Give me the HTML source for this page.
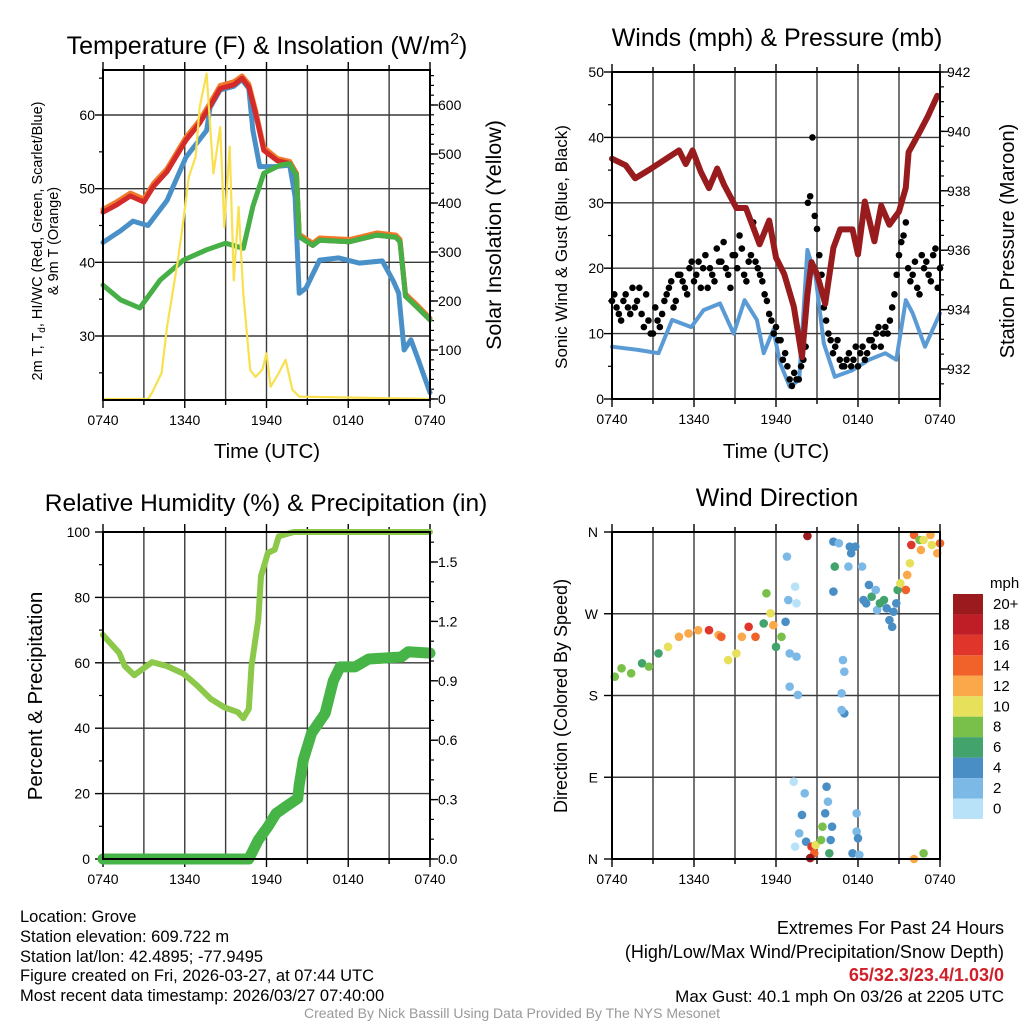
<!DOCTYPE html>
<html><head><meta charset="utf-8"><title>Grove Mesonet Meteogram</title>
<style>
html,body{margin:0;padding:0;background:#fff;width:1024px;height:1024px;overflow:hidden}
svg{display:block}
text{font-family:"Liberation Sans",Arial,sans-serif;fill:#000}
</style></head>
<body>
<svg id="chart" width="1024" height="1024" viewBox="0 0 1024 1024" xmlns="http://www.w3.org/2000/svg">
<rect x="0" y="0" width="1024" height="1024" fill="#fff"/>
<text x="267" y="54" font-size="25" text-anchor="middle">Temperature (F) &amp; Insolation (W/m<tspan dy="-10" font-size="16">2</tspan><tspan dy="10">)</tspan></text>
<text x="777" y="46" font-size="25" text-anchor="middle">Winds (mph) &amp; Pressure (mb)</text>
<text x="266" y="511" font-size="24.5" text-anchor="middle">Relative Humidity (%) &amp; Precipitation (in)</text>
<text x="777" y="506" font-size="25" text-anchor="middle">Wind Direction</text>

<text x="267" y="458" font-size="20.5" text-anchor="middle">Time (UTC)</text>
<text x="776" y="458" font-size="20.5" text-anchor="middle">Time (UTC)</text>

<text transform="translate(42,241) rotate(-90)" font-size="14.5" text-anchor="middle">2m T, T<tspan dy="3" font-size="10">d</tspan><tspan dy="-3">, HI/WC (Red, Green, Scarlet/Blue)</tspan></text>
<text transform="translate(58,241) rotate(-90)" font-size="14.5" text-anchor="middle">&amp; 9m T (Orange)</text>
<text transform="translate(501,235) rotate(-90)" font-size="21.5" text-anchor="middle">Solar Insolation (Yellow)</text>
<text transform="translate(567,247) rotate(-90)" font-size="17" text-anchor="middle">Sonic Wind &amp; Gust (Blue, Black)</text>
<text transform="translate(1014,241) rotate(-90)" font-size="20" text-anchor="middle">Station Pressure (Maroon)</text>
<text transform="translate(42,696) rotate(-90)" font-size="20.5" text-anchor="middle">Percent &amp; Precipitation</text>
<text transform="translate(567,696) rotate(-90)" font-size="18" text-anchor="middle">Direction (Colored By Speed)</text>

<g>
<text x="20" y="922" font-size="16.5">Location: Grove</text>
<text x="20" y="942" font-size="16.5">Station elevation: 609.722 m</text>
<text x="20" y="962" font-size="16.5">Station lat/lon: 42.4895; -77.9495</text>
<text x="20" y="981" font-size="16.5">Figure created on Fri, 2026-03-27, at 07:44 UTC</text>
<text x="20" y="1001" font-size="16.5">Most recent data timestamp: 2026/03/27 07:40:00</text>
</g>
<g>
<text x="1004" y="934" font-size="18" text-anchor="end">Extremes For Past 24 Hours</text>
<text x="1004" y="958" font-size="18" text-anchor="end">(High/Low/Max Wind/Precipitation/Snow Depth)</text>
<text x="1004" y="981" font-size="18" text-anchor="end" font-weight="bold" style="fill:#d0202a">65/32.3/23.4/1.03/0</text>
<text x="1004" y="1002" font-size="17" text-anchor="end">Max Gust: 40.1 mph On 03/26 at 2205 UTC</text>
</g>
<text x="512" y="1018" font-size="14" text-anchor="middle" style="fill:#999">Created By Nick Bassill Using Data Provided By The NYS Mesonet</text>
<g id="plots"></g>
</svg>
<script>
// ---------- Temperature panel data (hours since 0740 UTC) ----------
const redT = [0,1,2,3,3.7,4.7,6.1,7.1,7.85,8.6,9.6,10.2,10.7,11.2,11.8,12.8,13.7,14.2,14.4,15.4,15.9,18.1,20.1,21.5,21.8,22.2,23,24];
const redV = [46.8,47.8,49.0,48.2,50.3,52.3,56.6,58.9,61.2,63.6,64.1,65.0,63.8,60.2,55.2,53.8,53.4,51.8,43.5,42.3,43.0,42.8,43.7,43.4,42.8,35.4,34.0,32.2];
const orangeV = [47.2,48.2,49.4,48.6,50.7,52.7,57.0,59.3,61.6,64.0,64.5,65.3,64.2,60.6,55.6,54.1,53.7,52.1,43.8,42.6,43.3,43.1,44.0,43.7,43.1,35.7,34.3,32.4];
const greenT = [0,1.3,2.7,4.2,5.9,7.6,9.0,10.3,11.0,11.8,13.0,13.7,14.2,14.4,15.4,15.9,18.1,20.1,21.5,21.8,22.2,23,24];
const greenV = [36.9,34.9,33.8,37.6,40.3,41.7,42.6,41.9,47.6,52.1,53.2,53.4,51.8,43.5,42.3,43.0,42.8,43.7,43.4,42.8,35.4,34.0,32.2];
const blueT = [0,1.3,2.2,2.9,3.3,4.7,6.1,7.6,7.85,8.6,9.6,10.2,10.7,11.0,11.5,12.6,13.7,14.1,14.4,14.9,15.9,17.3,18.8,20.5,21.3,21.7,22.1,22.6,23.1,24];
const blueV = [42.7,44.3,45.6,45.2,45.0,48.4,54.3,57.9,61.0,63.4,63.9,64.8,63.6,57.9,53.0,53.0,53.2,48.9,35.8,36.5,40.3,40.6,39.9,40.2,37.5,35.8,28.1,29.5,27.0,22.3];
const solarT = [0,3.3,3.6,4.3,4.7,5.5,5.9,6.3,6.8,7.1,7.6,8.1,8.6,8.9,9.3,9.6,9.95,10.3,10.8,11.2,11.7,12.0,12.3,12.9,13.4,13.9,14.4,24];
const solarV = [0,0,13,53,147,283,365,453,494,596,664,460,555,351,515,242,392,215,59,45,60,93,25,53,80,19,5,0];
// ---------- Winds panel data ----------
const presT = [0,1.0,1.7,2.7,3.6,4.9,5.4,5.9,6.5,7.1,7.7,8.2,9.1,9.8,10.8,11.5,12.0,12.6,13.3,13.9,14.3,14.6,15.0,15.6,16.2,16.7,17.6,18.0,18.5,19.2,19.7,20.3,21.0,21.5,21.7,22.5,23.1,23.8];
const presV = [939.08,938.86,938.42,938.7,938.97,939.36,938.9,939.36,938.64,938.09,938.75,938.2,937.42,937.42,936.2,937.0,935.75,935.2,934.1,932.4,934.5,935.6,935.2,934.2,936.08,936.7,936.7,935.86,937.64,936.3,937.5,936.86,937.3,938.1,939.3,939.97,940.5,941.2];
const windT = [0,1.9,3.4,4.4,5.8,6.7,7.9,8.9,9.7,10.6,11.1,11.8,12.3,13.0,13.7,14.3,14.9,15.5,16.3,17.6,18.8,20.0,20.8,21.5,22.0,22.9,24];
const windV = [8.0,7.5,7.0,12.1,11.0,13.6,14.6,10.0,15.1,12.1,7.0,10.6,5.5,1.9,2.9,22.8,18.7,8.5,3.4,4.4,6.0,7.0,6.0,15.1,13.1,8.0,13.1];
// gusts every 20 minutes from 0740 UTC
const gustV = [15,14,12,16,13,14,17,11,12,10,12,13,16,18,15,19,17,20,18,21,20,17,19,23,21,20,17,22,25,19,21,27,20,18,15,12,11,9,7,3,4,3,6,30,40,26,19,12,9,8,6,5,7,6,5,8,7,9,10,8,11,12,16,22,25,20,19,17,22,21,18,23,20];
// gusts every 20 minutes from 0750 UTC
const gust2V = [16,13,15,14,17,15,13,16,10,14,11,15,17,14,19,18,16,21,19,17,22,20,18,21,24,19,22,20,23,18,22,21,19,16,13,10,9,6,5,2,3,5,8,31,28,22,14,10,7,9,5,6,5,8,7,6,9,8,11,10,10,14,19,24,27,18,21,16,20,19,22,17];
// ---------- Humidity panel data ----------
const rhT = [0,1.2,1.6,2.3,3.6,4.7,5.9,6.9,7.9,8.9,9.9,10.3,10.7,10.9,11.4,11.6,12.1,12.6,12.9,14.0,24];
const rhV = [68.5,63,59,56.2,60.2,59,56.7,53.1,49,46.4,44.9,43.1,45.9,59,73.3,86.5,93.6,94.6,98.7,100,100];
const pcpT = [0,10.7,11.4,12.1,12.7,13.4,14.3,14.4,14.7,15.3,16.3,16.9,17.4,18.5,19.5,21.9,22.4,24];
const pcpV = [0,0,0.096,0.163,0.23,0.264,0.306,0.373,0.50,0.635,0.735,0.90,0.97,0.97,1.01,1.02,1.047,1.04];
// ---------- Wind direction data ----------
const dirT = [0.2,0.7,1.4,2.2,2.7,3.4,4.1,4.9,5.6,6.3,7.1,7.8,8.0,8.5,9.1,9.5,10.0,10.5,11.1,11.3,11.6,11.8,12.0,12.4,12.7,12.8,12.9,13.0,13.0,13.4,13.5,13.6,13.5,13.3,14.1,13.9,13.7,13.4,14.2,14.6,14.8,14.5,14.9,15.3,15.4,14.3,15.6,15.7,15.8,15.9,16.0,16.1,16.2,16.3,16.2,16.6,16.8,16.9,17.0,17.0,16.8,17.3,17.4,17.5,17.6,17.8,17.9,17.9,18.0,18.1,18.3,18.4,18.6,18.8,19.0,19.3,19.4,19.6,19.9,20.1,20.3,20.5,20.6,20.8,20.9,21.1,21.5,21.6,21.8,21.9,22.1,22.5,22.6,22.8,23.3,23.4,23.8,24.0,22.1,22.8];
const dirV = [200.7,209.9,204.4,215.4,211.8,226.3,233.6,244.6,248.3,251.9,251.9,246.6,244.6,219,226.3,244.6,255.6,244.6,259.3,292.5,270.5,257.4,233.6,244.6,261.1,332.9,285.1,226.3,189.7,299.8,222.8,180.6,281.5,85.1,72.3,48.5,28.3,13.6,19.1,13.6,6.3,1,15.4,20.9,35.6,355.6,50.3,79.6,63.1,6.3,20.9,35.6,349.4,321.9,294.4,347.6,182.4,219,206.2,160.3,164,321.9,343.9,336.6,6.3,343.9,50.3,30.2,22.8,4.5,321.9,285.1,281.5,301.7,288.8,296.2,274.1,281.5,285.1,276,263,255.6,272.2,281.5,296.2,303.5,296.2,312.7,325.6,345.8,356.7,351.2,340.2,351.2,356.7,345.8,336.6,347.6,0,6.3];
const dirS = [9,9,9,7,9,7,11,13,13,13,17,13,15,11,11,13,17,15,7,9,11,13,7,9,5,3,3,3,3,1,3,3,1,1,3,5,3,1,5,17,15,21,11,9,9,21,5,5,3,7,5,5,5,7,5,3,3,3,3,5,3,3,5,5,5,5,3,3,5,3,3,5,5,5,7,3,3,7,7,5,5,5,5,5,7,11,15,13,11,17,15,9,13,11,13,11,13,15,13,9];
// ---------- Colorbar ----------
const cbLabels = ["20+","18","16","14","12","10","8","6","4","2","0"];
const cbColors = ["#9a1a1e","#c01e27","#e0352b","#f0622a","#fba84a","#e6e05a","#78c04a","#42a46c","#4a8ec6","#7db9e6","#b8e2f8"];
const timeLabels = ["0740","1340","1940","0140","0740"];

const NS="http://www.w3.org/2000/svg";
const root=document.getElementById('plots');
function el(tag,attrs,parent){const e=document.createElementNS(NS,tag);for(const k in attrs)e.setAttribute(k,attrs[k]);(parent||root).appendChild(e);return e;}
function lin(d0,d1,r0,r1){return v=>r0+(v-d0)*(r1-r0)/(d1-d0);}
function speedColor(s){let i=Math.min(10,Math.floor(s/2));return cbColors[10-i];}

const panels={
 p1:{x0:103,x1:430,y0:70,y1:400},
 p2:{x0:612,x1:940,y0:72,y1:399},
 p3:{x0:103,x1:430,y0:532,y1:859},
 p4:{x0:612,x1:940,y0:532,y1:859}
};
for(const k in panels){const p=panels[k];p.x=lin(0,24,p.x0,p.x1);}
const p1=panels.p1,p2=panels.p2,p3=panels.p3,p4=panels.p4;
p1.yL=lin(30,60,336,115); p1.yR=lin(0,600,399,105);
p2.yL=lin(0,50,399,72); p2.yR=lin(932,942,369,72);
p3.yL=lin(0,100,859,532); p3.yR=lin(0,1.5,859,562);
p4.yL=lin(0,360,859,532);

function frame(p,name,hGrid,tickL,minorL,tickR,minorR){
 const g=el('g',{});
 
 
 for(let h=3;h<24;h+=3){
  const ln=el('line',{x1:p.x(h),x2:p.x(h),y1:p.y0,y2:p.y1,stroke:'#3a3a3a','stroke-width':1.4},g);
  
  
 }
 hGrid.forEach(v=>{
  const ln=el('line',{x1:p.x0,x2:p.x1,y1:p.yL(v),y2:p.yL(v),stroke:'#3a3a3a','stroke-width':1.4},g);
  
  
 });
 for(let h=0;h<=24;h+=3){
  const L=(h%6===0)?8:5;
  el('line',{x1:p.x(h),x2:p.x(h),y1:p.y1,y2:p.y1+L,stroke:'#000','stroke-width':1.4},g);
  el('line',{x1:p.x(h),x2:p.x(h),y1:p.y0,y2:p.y0-L,stroke:'#000','stroke-width':1.4},g);
 }
 tickL.forEach(v=>el('line',{x1:p.x0,x2:p.x0-8,y1:p.yL(v),y2:p.yL(v),stroke:'#000','stroke-width':1.4},g));
 minorL.forEach(v=>el('line',{x1:p.x0,x2:p.x0-4,y1:p.yL(v),y2:p.yL(v),stroke:'#000','stroke-width':1.2},g));
 if(p.yR){
  tickR.forEach(v=>el('line',{x1:p.x1,x2:p.x1+8,y1:p.yR(v),y2:p.yR(v),stroke:'#000','stroke-width':1.4},g));
  minorR.forEach(v=>el('line',{x1:p.x1,x2:p.x1+4,y1:p.yR(v),y2:p.yR(v),stroke:'#000','stroke-width':1.2},g));
 }
 timeLabels.forEach((t,i)=>{
  const tx=el('text',{x:p.x(i*6),y:p.y1+25,'font-size':14,'text-anchor':'middle'},g);
  tx.textContent=t;
  
  
 });
 return g;
}
function border(p,name){
 const r=el('rect',{x:p.x0,y:p.y0,width:p.x1-p.x0,height:p.y1-p.y0,fill:'none',stroke:'#000','stroke-width':2});
 
 
}
function range(a,b,s){const r=[];for(let v=a;v<=b+1e-9;v+=s)r.push(+v.toFixed(3));return r;}
function line(p,T,V,ys,color,w,name){
 const d=T.map((t,i)=>(i?'L':'M')+p.x(t).toFixed(1)+','+ys(V[i]).toFixed(1)).join('');
 const path=el('path',{d:d,fill:'none',stroke:color,'stroke-width':w,'stroke-linejoin':'round','stroke-linecap':'round'});
 
 
 return path;
}
function label(x,y,txt,anchor,name){
 const t=el('text',{x:x,y:y,'font-size':14,'text-anchor':anchor});
 t.textContent=txt;
 
 
}

// ---- Panel 1 ----
frame(p1,'temperature',[30,40,50,60],[30,40,50,60],[25,35,45,55,65],range(0,600,100),range(0,660,20));
[30,40,50,60].forEach(v=>label(95,p1.yL(v)+5,String(v),'end','temperature-y-tick-label'));
range(0,600,100).forEach(v=>label(438,p1.yR(v)+5,String(v),'start','insolation-y-tick-label'));
line(p1,blueT,blueV,p1.yL,'#4a90c8',5,'heat-index-windchill-line');
line(p1,redT,orangeV,p1.yL,'#f07a2a',5,'9m-temperature-line');
line(p1,redT,redV,p1.yL,'#d42a2a',5,'2m-temperature-line');
line(p1,greenT,greenV,p1.yL,'#46b046',5,'dewpoint-line');
line(p1,solarT,solarV,p1.yR,'#f8e050',2.2,'solar-insolation-line');
border(p1,'temperature');

// ---- Panel 2 ----
frame(p2,'winds',[10,20,30,40],[0,10,20,30,40,50],range(5,45,10),range(932,942,2),range(931.5,942,0.5));
[0,10,20,30,40,50].forEach(v=>label(604,p2.yL(v)+5,String(v),'end','wind-y-tick-label'));
range(932,942,2).forEach(v=>label(947,p2.yR(v)+5,String(v),'start','pressure-y-tick-label'));
line(p2,windT,windV,p2.yL,'#5a9bd5',4,'sonic-wind-line');
gustV.forEach((g,i)=>{
 const c=el('circle',{cx:p2.x(i/3),cy:p2.yL(g),r:3.3,fill:'#000'});
 
 
});
gust2V.forEach((g,i)=>{
 const c=el('circle',{cx:p2.x(i/3+1/6),cy:p2.yL(g),r:3.3,fill:'#000'});
 
 
});
line(p2,presT,presV,p2.yR,'#981b1e',6,'station-pressure-line');
border(p2,'winds');

// ---- Panel 3 ----
frame(p3,'humidity',[20,40,60,80],[0,20,40,60,80,100],range(10,90,20),range(0,1.5,0.3),range(0,1.6,0.1));
[0,20,40,60,80,100].forEach(v=>label(90,p3.yL(v)+5,String(v),'end','humidity-y-tick-label'));
range(0,1.5,0.3).forEach(v=>label(438,p3.yR(v)+5,v.toFixed(1),'start','precipitation-y-tick-label'));
line(p3,rhT,rhV,p3.yL,'#8cc84a',6,'relative-humidity-line');
line(p3,pcpT,pcpV,p3.yR,'#46b446',11,'precipitation-line');
border(p3,'humidity');

// ---- Panel 4 ----
frame(p4,'direction',[90,180,270],[0,90,180,270,360],[],[],[]);
["N","E","S","W","N"].forEach((d,i)=>label(598,p4.yL(i*90)+5,d,'end','direction-y-tick-label'));
dirT.forEach((t,i)=>{
 const c=el('circle',{cx:p4.x(t),cy:p4.yL(dirV[i]),r:4.3,fill:speedColor(dirS[i])});
 
 
});
border(p4,'direction');

// ---- Colorbar ----
const cb=el('g',{});


const cbt=el('text',{x:990,y:588,'font-size':15},cb);
cbt.textContent='mph';


cbLabels.forEach((l,i)=>{
 const y=594+i*20.45;
 const r=el('rect',{x:953,y:y,width:30,height:20.45,fill:cbColors[i]},cb);
 
 
 const t=el('text',{x:993,y:y+15,'font-size':15},cb);
 t.textContent=l;
 
 
});
</script>
</body></html>
